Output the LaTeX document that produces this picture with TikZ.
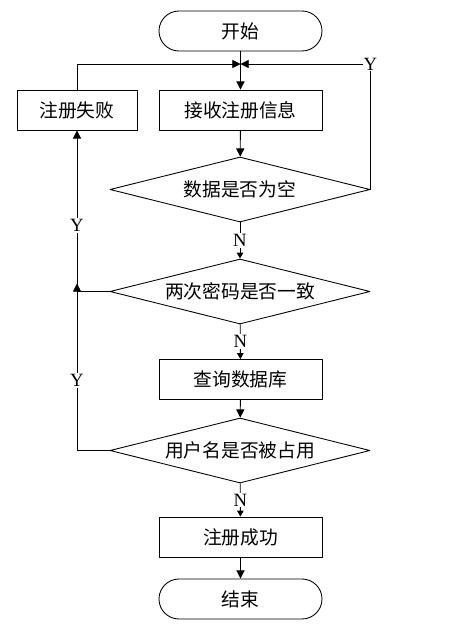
\documentclass[tikz,border=0pt]{standalone}
\usepackage{fontspec}
\setmainfont{Liberation Serif}
\newfontfamily\cjk{Noto Sans CJK SC}
\usetikzlibrary{arrows.meta,shapes.geometric}
\begin{document}
		\begin{tikzpicture}[x=0.03cm, y=-0.03cm, line width=0.75pt, line join=round, font=\fontsize{16pt}{19pt}\selectfont, >={Triangle[length=7pt,width=7pt]},
			box/.style={draw, rectangle, font=\cjk\fontsize{16pt}{19pt}\selectfont, minimum width=4.89cm, minimum height=1.2cm, inner sep=0pt},
			term/.style={box, rounded corners=0.6cm},
			decide/.style={draw, diamond, aspect=4, font=\cjk\fontsize{16pt}{19pt}\selectfont, minimum width=7.8cm, minimum height=1.95cm, inner sep=0pt},
			yn/.style={fill=white, inner sep=1pt},
			small/.style={>={Triangle[length=5pt,width=5.5pt]}}]
			\useasboundingbox (0,0) rectangle (464,630);
			\node[term] (start) at (240.5,31) {开始};
			\node[box] (recv) at (240.5,110) {接收注册信息};
			\node[box, minimum width=3.6cm] (fail) at (77,110) {注册失败};
			\node[decide] (d1) at (240,189.5) {数据是否为空};
			\node[decide] (d2) at (240,291.5) {两次密码是否一致};
			\node[box] (query) at (240.5,379.5) {查询数据库};
			\node[decide] (d3) at (240,450.5) {用户名是否被占用};
			\node[box] (ok) at (240.5,537) {注册成功};
			\node[term] (stop) at (240.5,599) {结束};
			\coordinate (j) at (240.5,64);
			\coordinate (jl) at (77,291.5);
			\draw[->] (start) -- (recv);
			\draw[->] (fail.north) |- (j);
			\draw[->] (d1.east) |- (j) node[yn, pos=0.5] {Y};
			\draw[->] (recv) -- (d1);
			\draw[->, small] (d1) -- node[yn] {N} (d2);
			\draw[->, small] (d2) -- node[yn] {N} (query);
			\draw[->] (query) -- (d3);
			\draw[->, small] (d3) -- node[yn] {N} (ok);
			\draw[->] (ok) -- (stop);
			\draw[->] (d2.west) -| (fail.south) node[yn, pos=0.705] {Y};
			\draw[->] (d3.west) -| ([yshift=0.24cm]jl) node[yn, pos=0.71] {Y};
		\end{tikzpicture}
\end{document}
